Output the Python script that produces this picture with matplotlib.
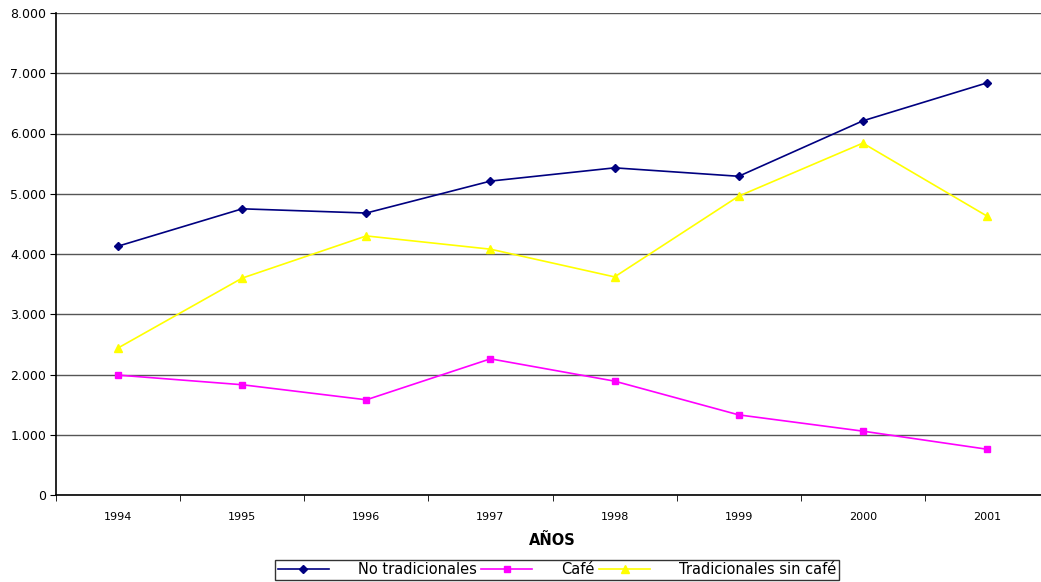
import numpy as np
import matplotlib.pyplot as plt
from matplotlib.ticker import FuncFormatter

anios = ['1994', '1995', '1996', '1997', '1998', '1999', '2000', '2001']
no_tradicionales = [4130, 4750, 4680, 5210, 5430, 5290, 6210, 6840]
cafe = [1990, 1830, 1580, 2260, 1890, 1330, 1060, 760]
trad_sin_cafe = [2440, 3600, 4300, 4080, 3620, 4960, 5840, 4630]

fig = plt.figure(figsize=(10.41, 5.82), dpi=100)
ax = fig.add_axes([56/1041, 1-495/582, 993/1041, 482/582])

x = np.arange(1, len(anios)+1)
l1, = ax.plot(x, no_tradicionales, color='#000080', marker='D', ms=4, lw=1.2)
l2, = ax.plot(x, cafe, color='#ff00ff', marker='s', ms=5, lw=1.2)
l3, = ax.plot(x, trad_sin_cafe, color='#ffff00', marker='^', ms=6, lw=1.2)

ax.set_xlim(0.5, len(anios)+0.5)
ax.set_ylim(0, 8000)
ax.set_yticks(range(0, 8001, 1000))
ax.yaxis.set_major_formatter(FuncFormatter(lambda v, p: '0' if v == 0 else '{:,.0f}'.format(v).replace(',', '.')))
ax.grid(axis='y', color='#555555', lw=1)
ax.set_axisbelow(True)

ax.set_xticks(x)
ax.set_xticklabels(anios)
ax.set_xticks(np.arange(0.5, len(anios)+1, 1), minor=True)
ax.tick_params(axis='x', which='major', length=0, pad=12, labelsize=8)
ax.tick_params(axis='x', which='minor', length=4, direction='out')
ax.tick_params(axis='y', length=4, labelsize=9, pad=3)

for s in ['top', 'right']:
    ax.spines[s].set_visible(False)
ax.spines['left'].set_linewidth(1.2)
ax.spines['bottom'].set_linewidth(1.2)

ax.set_xlabel('AÑOS', fontweight='bold', fontsize=10.5, labelpad=8)

leg = fig.legend([l1, l2, l3], ['No tradicionales', 'Café', 'Tradicionales sin café'],
                 loc='center', bbox_to_anchor=(557/1041, 1-570/582), ncol=3,
                 fontsize=10.5, frameon=True, fancybox=False, shadow=False,
                 handlelength=3.5, columnspacing=0.3, handletextpad=2.0,
                 borderpad=0.15, borderaxespad=0)
leg.get_frame().set_edgecolor('black')
leg.get_frame().set_linewidth(1)

plt.savefig('out.png', dpi=100)
